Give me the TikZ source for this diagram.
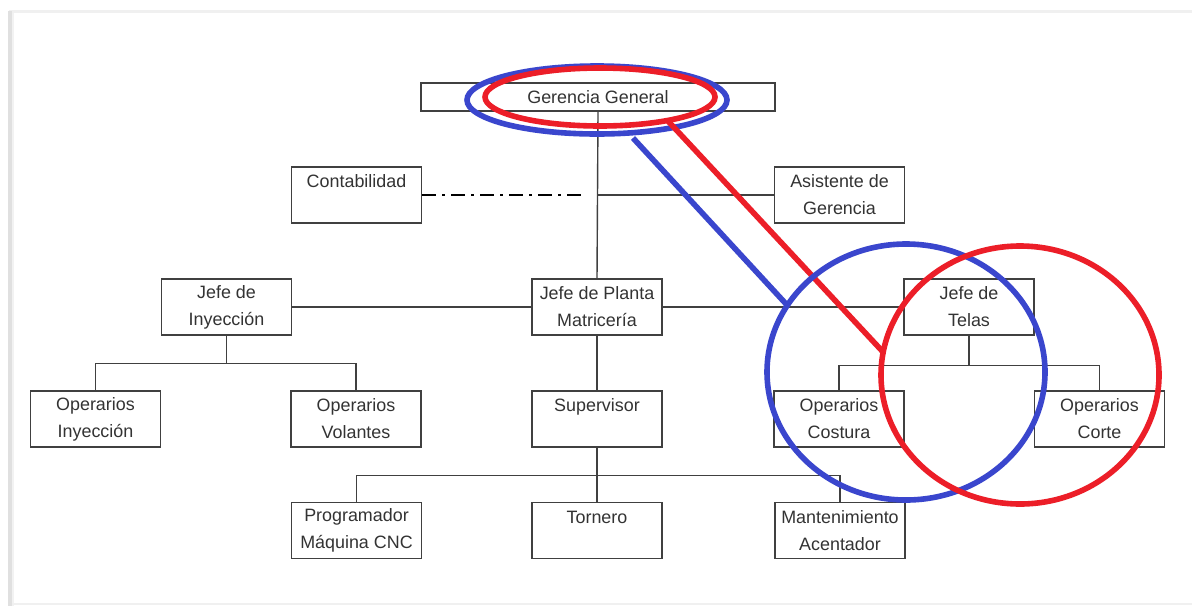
\documentclass[tikz,border=0pt]{standalone}
\usepackage{fontspec}
\setmainfont{Liberation Sans}
\definecolor{markblue}{RGB}{58,70,205}
\definecolor{markred}{RGB}{236,30,40}
\begin{document}
\begin{tikzpicture}[x=0.5pt,y=-0.5pt,
  orgbox/.style={draw=black!75, line width=0.7pt, inner sep=0pt,
    minimum width=65pt, minimum height=28pt, align=center,
    text=black!80, font=\fontsize{8.95}{13.5}\selectfont},
  link/.style={draw=black!75, line width=0.7pt},
  dotlink/.style={draw=black, line width=1.1pt, dash pattern=on 7pt off 3pt on 1.5pt off 3pt},
  bluemark/.style={draw=markblue, line width=2.8pt},
  redmark/.style={draw=markred, line width=2.8pt}]
\useasboundingbox (0,0) rectangle (1192,606);
\fill[white] (0,0) rectangle (1192,606);
% page edge with a soft shadow
\fill[black!6] (9,10) rectangle (1192,13);
\fill[black!12] (8,11) rectangle (12,606);
\fill[black!5] (12,13) rectangle (14,606);
\fill[black!6] (12,603) rectangle (1192,605);

% boxes
\node[orgbox, minimum width=177pt, minimum height=14pt] (gg) at (598,97) {Gerencia General};
\node[orgbox] (cont) at (356.5,195) {Contabilidad\\\mbox{}};
\node[orgbox] (asis) at (839.5,195) {Asistente de\\Gerencia};
\node[orgbox] (jinv) at (226.5,307) {Jefe de\\Inyección};
\node[orgbox] (jpm) at (597,307) {Jefe de Planta\\Matricería};
\node[orgbox] (jtel) at (969,307) {Jefe de\\Telas};
\node[orgbox] (oinv) at (95.5,419) {Operarios\\Inyección};
\node[orgbox] (ovol) at (356,419) {Operarios\\Volantes};
\node[orgbox] (sup) at (597,419) {Supervisor\\\mbox{}};
\node[orgbox] (ocos) at (839,419) {Operarios\\Costura};
\node[orgbox] (ocor) at (1099.5,419) {Operarios\\Corte};
\node[orgbox] (prog) at (356.5,530.5) {Programador\\Máquina CNC};
\node[orgbox] (torn) at (597,530.5) {Tornero\\\mbox{}};
\node[orgbox] (mant) at (840,530.5) {Mantenimiento\\Acentador};

% connectors
\coordinate (trunk) at (gg.south |- cont.east);
\coordinate (dashend) at ([xshift=-6pt]trunk);
\path[link] (gg.south) -- (jpm.north);
\path[dotlink] (cont.east) -- (dashend);
\path[link] (trunk) -- (asis.west);
\path[link] (jinv.east) -- (jpm.west);
\path[link] (jpm.east) -- (jtel.west);
\path[link] (jinv.south) -- ++(0,28) coordinate (jinvbar) -| (oinv.north);
\path[link] (jinvbar) -| (ovol.north);
\path[link] (jtel.south) -- ++(0,30) coordinate (jtelbar) -| (ocos.north);
\path[link] (jtelbar) -| (ocor.north);
\path[link] (jpm.south) -- (sup.north);
\path[link] (sup.south) -- ++(0,28) coordinate (supbar) -| (prog.north);
\path[link] (supbar) -- (torn.north);
\path[link] (supbar) -| (mant.north);

% highlight marks
\coordinate (gb) at (597,100);
\coordinate (gr) at (600,97);
\coordinate (cb) at (906,372);
\coordinate (cr) at (1020,375);
\coordinate (lb1) at (633,138);
\coordinate (lb2) at (787,305);
\coordinate (lr1) at (668,121);
\coordinate (lr2) at (884,353);
\path[bluemark] (gb) ellipse [x radius=130, y radius=34];
\path[redmark] (gr) ellipse [x radius=115, y radius=29];
\path[bluemark] (lb1) -- (lb2);
\path[redmark] (lr1) -- (lr2);
\path[bluemark] (cb) ellipse [x radius=139, y radius=128];
\path[redmark] (cr) ellipse [x radius=139, y radius=129];
\end{tikzpicture}
\end{document}
